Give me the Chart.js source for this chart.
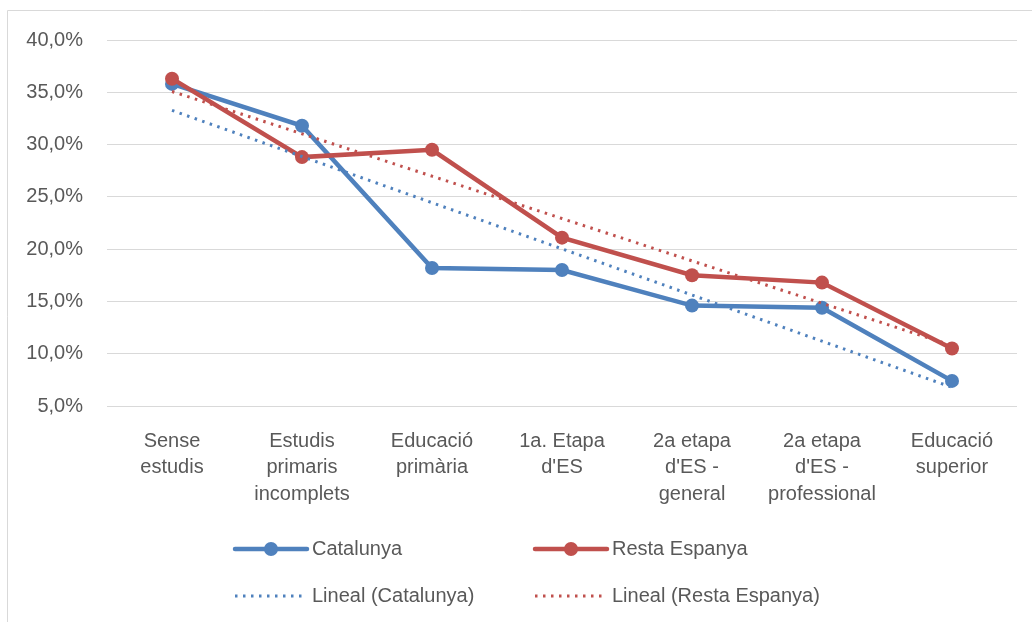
<!DOCTYPE html>
<html>
<head>
<meta charset="utf-8">
<script src="https://cdn.jsdelivr.net/npm/chart.js@4"></script>
<style>
  html, body { margin: 0; padding: 0; background: #fff; }
  #wrap { width: 1032px; height: 622px; }
</style>
</head>
<body>
<div id="wrap"><canvas id="chart" width="1032" height="622"></canvas></div>
<script>
// categories and values (in %)
const categories = [
  ['Sense', 'estudis'],
  ['Estudis', 'primaris', 'incomplets'],
  ['Educació', 'primària'],
  ['1a. Etapa', "d'ES"],
  ['2a etapa', "d'ES -", 'general'],
  ['2a etapa', "d'ES -", 'professional'],
  ['Educació', 'superior']
];
const catalunya = [35.8, 31.8, 18.2, 18.0, 14.6, 14.4, 7.4];
const restaEspanya = [36.3, 28.8, 29.5, 21.1, 17.5, 16.8, 10.5];
const yTicks = [5, 10, 15, 20, 25, 30, 35, 40];

const blue = '#4f81bd';
const red = '#c0504d';
const textColor = '#595959';
const fontFamily = '"Liberation Sans", Arial, sans-serif';

// lineal trend (least squares), like Excel's "Lineal" trendline
function linearTrend(values) {
  const n = values.length;
  const mx = (n - 1) / 2;
  const my = values.reduce((a, b) => a + b, 0) / n;
  let sxy = 0, sxx = 0;
  values.forEach((v, i) => { sxy += (i - mx) * (v - my); sxx += (i - mx) * (i - mx); });
  const slope = sxy / sxx;
  return values.map((v, i) => my + slope * (i - mx));
}

// frame + two-column legend drawn on the canvas
const extras = {
  id: 'extras',
  afterDraw(chart) {
    const c = chart.ctx;
    c.save();
    c.strokeStyle = '#d9d9d9';
    c.lineWidth = 1;
    c.beginPath();
    c.moveTo(7.5, 640);
    c.lineTo(7.5, 10.5);
    c.lineTo(1040, 10.5);
    c.stroke();

    const items = [
      { x: 235, y: 549, color: blue, solid: true, text: 'Catalunya' },
      { x: 535, y: 549, color: red, solid: true, text: 'Resta Espanya' },
      { x: 235, y: 596, color: blue, solid: false, text: 'Lineal (Catalunya)' },
      { x: 535, y: 596, color: red, solid: false, text: 'Lineal (Resta Espanya)' }
    ];
    c.font = '20px ' + fontFamily;
    c.textBaseline = 'middle';
    items.forEach(it => {
      c.strokeStyle = it.color;
      c.beginPath();
      if (it.solid) {
        c.lineWidth = 4.5;
        c.lineCap = 'round';
        c.setLineDash([]);
        c.moveTo(it.x, it.y);
        c.lineTo(it.x + 72, it.y);
        c.stroke();
        c.fillStyle = it.color;
        c.beginPath();
        c.arc(it.x + 36, it.y, 7, 0, Math.PI * 2);
        c.fill();
      } else {
        c.lineWidth = 3;
        c.lineCap = 'butt';
        c.setLineDash([2.5, 5.5]);
        c.moveTo(it.x, it.y);
        c.lineTo(it.x + 68, it.y);
        c.stroke();
        c.setLineDash([]);
      }
      c.fillStyle = textColor;
      c.fillText(it.text, it.x + 77, it.y);
    });
    c.restore();
  }
};

const ctx = document.getElementById('chart').getContext('2d');
new Chart(ctx, {
  type: 'line',
  data: {
    labels: categories,
    datasets: [
      {
        label: 'Catalunya',
        data: catalunya,
        borderColor: blue,
        backgroundColor: blue,
        borderWidth: 4.5,
        pointRadius: 7,
        pointHoverRadius: 7,
        pointBorderWidth: 0,
        tension: 0,
        order: 3
      },
      {
        label: 'Resta Espanya',
        data: restaEspanya,
        borderColor: red,
        backgroundColor: red,
        borderWidth: 4.5,
        pointRadius: 7,
        pointHoverRadius: 7,
        pointBorderWidth: 0,
        tension: 0,
        order: 2
      },
      {
        label: 'Lineal (Catalunya)',
        data: linearTrend(catalunya),
        borderColor: blue,
        borderWidth: 3,
        borderDash: [2.5, 5.5],
        pointRadius: 0,
        tension: 0,
        order: 1
      },
      {
        label: 'Lineal (Resta Espanya)',
        data: linearTrend(restaEspanya),
        borderColor: red,
        borderWidth: 3,
        borderDash: [2.5, 5.5],
        pointRadius: 0,
        tension: 0,
        order: 0
      }
    ]
  },
  options: {
    responsive: false,
    animation: false,
    layout: { padding: { top: 40, right: 15, left: 0, bottom: 0 } },
    plugins: {
      legend: { display: false },
      tooltip: { enabled: false }
    },
    scales: {
      x: {
        offset: true,
        grid: { display: false },
        border: { display: false },
        ticks: {
          color: textColor,
          font: { family: fontFamily, size: 20, lineHeight: 1.33 },
          padding: 14,
          maxRotation: 0,
          autoSkip: false
        },
        afterFit(scale) { scale.height = 216; }
      },
      y: {
        min: 5,
        max: 40,
        afterBuildTicks(scale) { scale.ticks = yTicks.map(v => ({ value: v })); },
        grid: { color: '#d9d9d9', lineWidth: 1, drawTicks: false },
        border: { display: false },
        ticks: {
          color: textColor,
          font: { family: fontFamily, size: 20 },
          padding: 24,
          callback: v => v.toFixed(1).replace('.', ',') + '%'
        },
        afterFit(scale) { scale.width = 107; }
      }
    }
  },
  plugins: [extras]
});
</script>
</body>
</html>
